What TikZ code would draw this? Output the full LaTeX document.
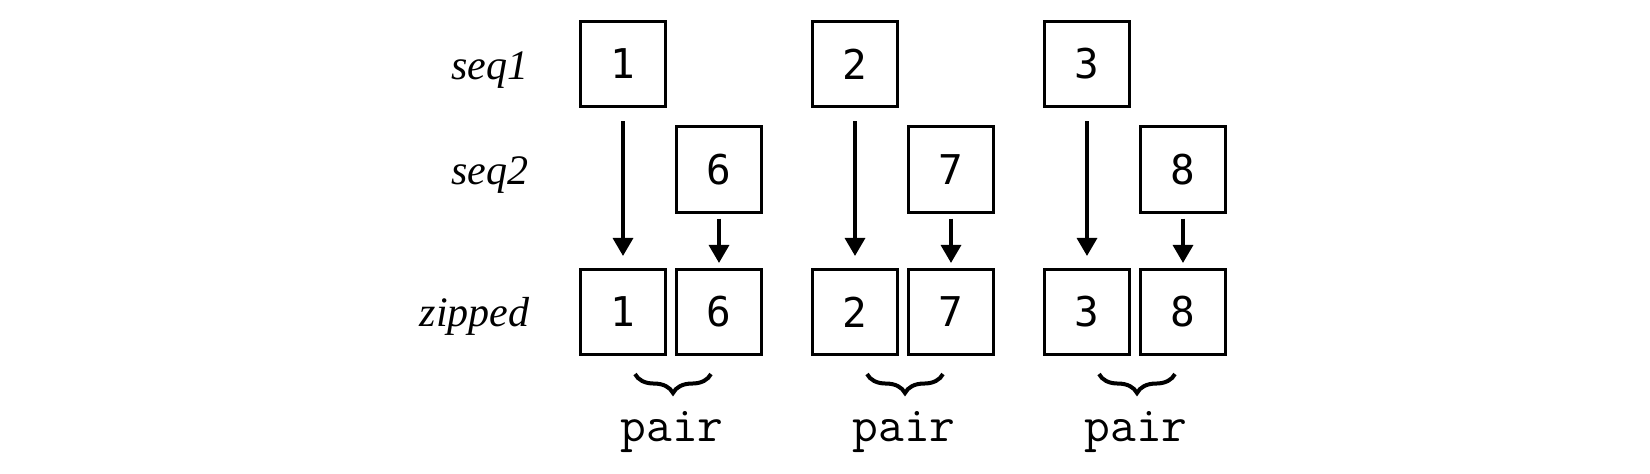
\documentclass[tikz,border=0pt]{standalone}
\usepackage{fontspec}
\setmainfont{Liberation Serif}
\newfontfamily\digitfont{DejaVu Sans Mono}
\usetikzlibrary{arrows.meta,decorations.pathreplacing}
\begin{document}
\begin{tikzpicture}[x=0.5pt,y=-0.5pt,
  cell/.style={draw,line width=1.35pt,minimum width=42.7pt,minimum height=42.7pt,inner sep=0pt,
    font=\digitfont\fontsize{20.5pt}{24pt}\selectfont},
  rowlabel/.style={anchor=base east,inner sep=0pt,font=\itshape\fontsize{21pt}{25pt}\selectfont},
  pairlabel/.style={anchor=base,inner sep=0pt,font=\ttfamily\fontsize{25pt}{29pt}\selectfont},
  arr/.style={line width=1.7pt,-{Triangle[width=10pt,length=9pt]}},
  pairbrace/.style={line width=2pt,decorate,decoration={brace,mirror,amplitude=9.5pt}}]
\useasboundingbox (0,0) rectangle (1650,474);
\node[rowlabel] (l1) at (529,80) {seq1};
\node[rowlabel] (l2) at (529,185) {seq2};
\node[rowlabel] (l3) at (530,327) {zipped};
\foreach \g/\a/\b [count=\i] in {0/1/6,1/2/7,2/3/8}{
  \pgfmathsetmacro{\xa}{623+232*\g}
  \pgfmathsetmacro{\xb}{719+232*\g}
  \node[cell] (s\i) at (\xa,64) {\a};
  \node[cell] (t\i) at (\xb,169.5) {\b};
  \node[cell] (za\i) at (\xa,312) {\a};
  \node[cell] (zb\i) at (\xb,312) {\b};
  \draw[arr,shorten <=6.5pt,shorten >=6pt] (s\i.south) -- (za\i.north);
  \draw[arr,shorten <=2.5pt,shorten >=2.5pt] (t\i.south) -- (zb\i.north);
  \draw[pairbrace] ([xshift=-16pt,yshift=-9pt]za\i.south east) -- ([xshift=18pt,yshift=-9pt]zb\i.south west);
  \node[pairlabel] (p\i) at (\xa+49,442) {pair};
}
\end{tikzpicture}
\end{document}
